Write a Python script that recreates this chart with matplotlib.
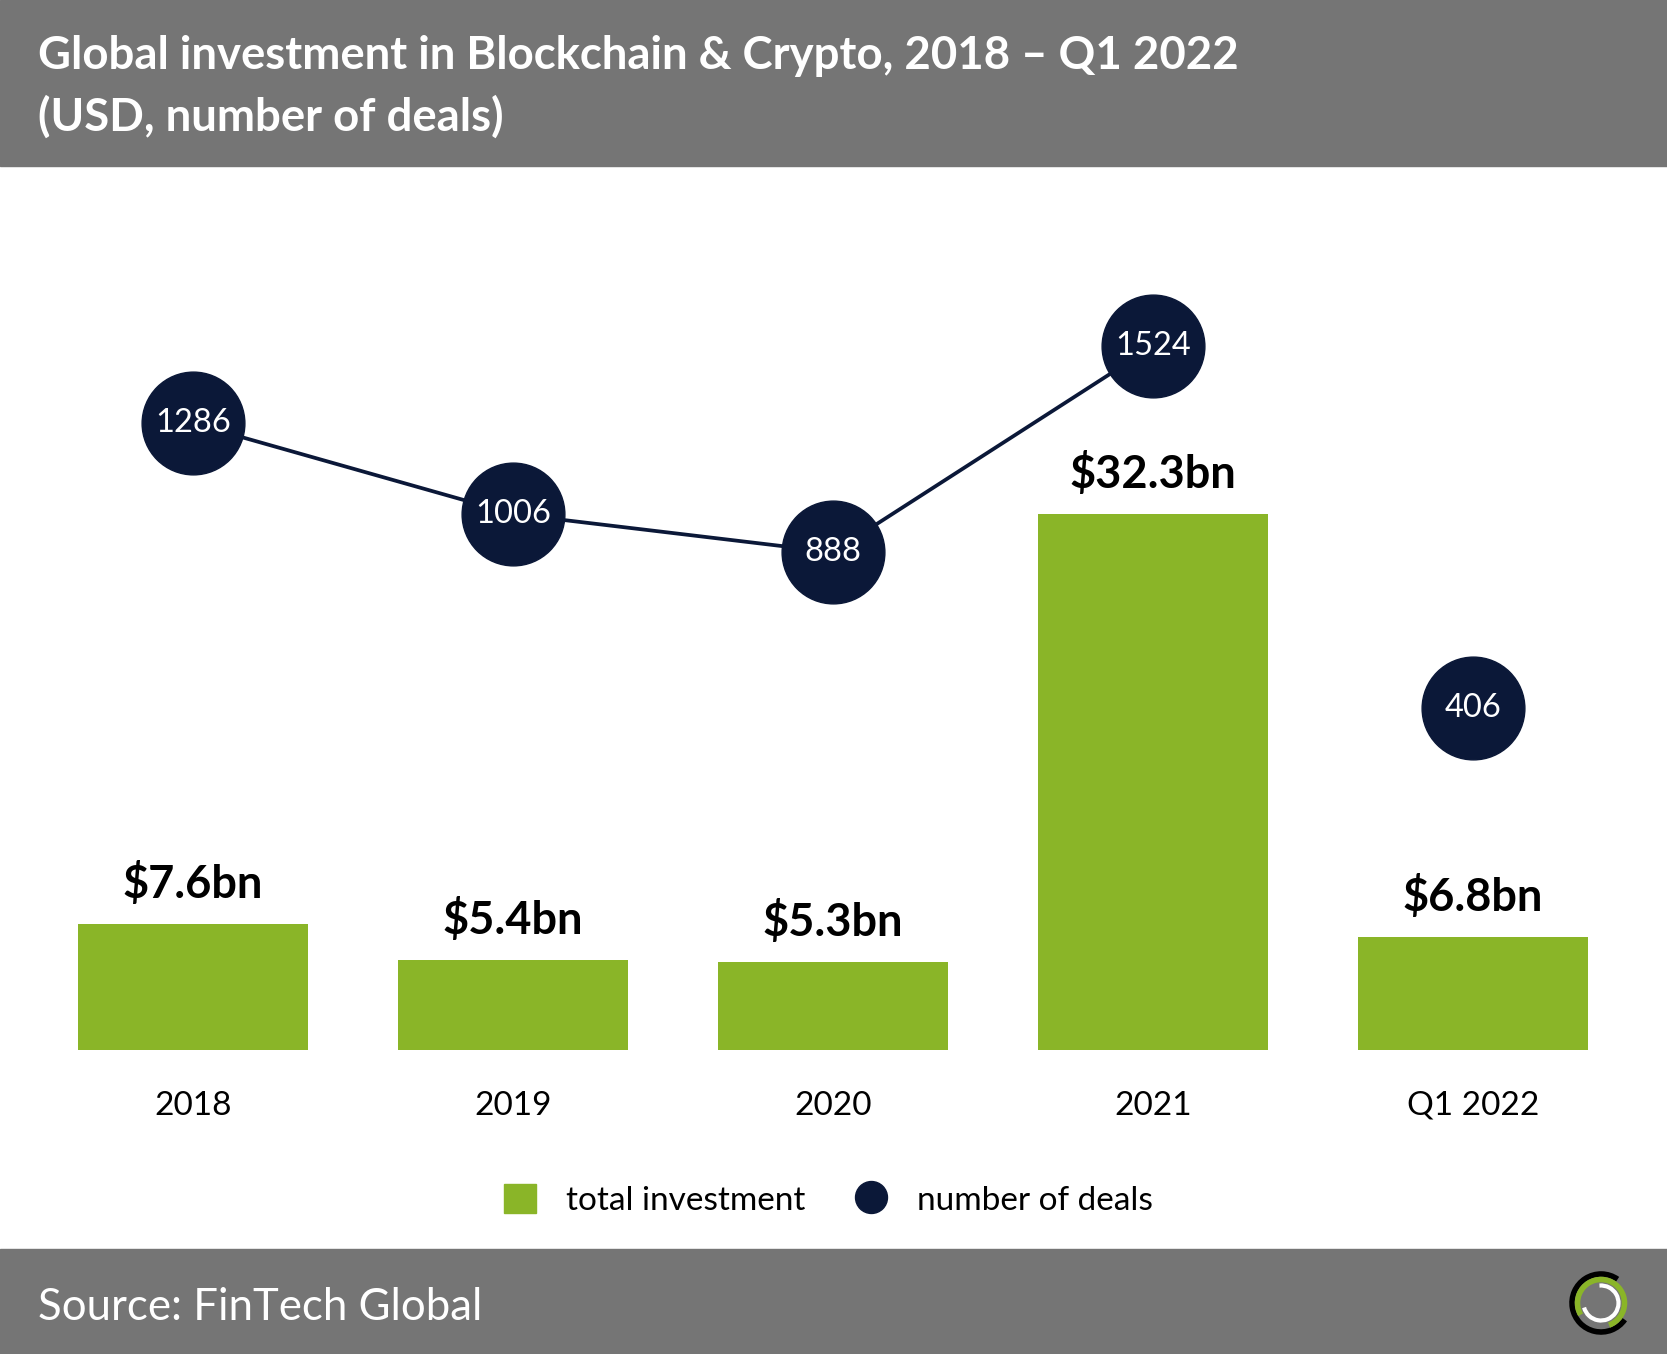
import numpy as np
import matplotlib
matplotlib.use("Agg")
import matplotlib.pyplot as plt
from matplotlib.patches import Rectangle, Arc, Patch
from matplotlib.lines import Line2D

plt.rcParams['font.family'] = ['Lato', 'DejaVu Sans']

# data
categories = ["2018", "2019", "2020", "2021", "Q1 2022"]
investment_bn = [7.6, 5.4, 5.3, 32.3, 6.8]
deals = [1286, 1006, 888, 1524, 406]

green = "#8AB528"
navy = "#0B1838"
grey = "#757575"

W, H = 1667, 1354
fig = plt.figure(figsize=(W / 100, H / 100), dpi=100)

# background layer: header, footer, logo (pixel coords)
bg = fig.add_axes([0, 0, 1, 1])
bg.set_xlim(0, W)
bg.set_ylim(H, 0)
bg.axis('off')
bg.add_patch(Rectangle((0, 0), W, 166, color=grey, zorder=0))
bg.add_patch(Rectangle((0, 1249), W, H - 1249, color=grey, zorder=0))
bg.text(38, 56, "Global investment in Blockchain & Crypto, 2018 \u2013 Q1 2022",
        color="white", fontsize=32.8, fontweight="bold", va="center", ha="left")
bg.text(38, 117, "(USD, number of deals)",
        color="white", fontsize=32.8, fontweight="bold", va="center", ha="left")
bg.text(38, 1307, "Source: FinTech Global", color="white", fontsize=31.5,
        va="center", ha="left")

# logo
cx, cy = 1601, 1303
bg.add_patch(Arc((cx, cy), 58, 58, theta1=35, theta2=305, color="black", lw=4))
bg.add_patch(Arc((cx, cy), 47, 47, theta1=150, theta2=430, color=green, lw=4))
bg.add_patch(Arc((cx, cy), 35, 35, theta1=-95, theta2=165, color="white", lw=3))

# main chart
ax = fig.add_axes([0, 1 - 1050 / H, 1, (1050 - 166) / H])
ax.patch.set_alpha(0)
x = np.arange(len(categories))
ax.bar(x, investment_bn, width=0.72, color=green, zorder=2)
ax.set_xlim(-0.603, 4.606)
ax.set_ylim(0, 53.3)
ax.axis('off')

for xi, v in zip(x, investment_bn):
    ax.annotate(f"${v}bn", (xi, v), xytext=(0, 29), textcoords="offset points",
                ha="center", va="center", fontsize=32.5, fontweight="bold", color="black")

for xi, c in zip(x, categories):
    ax.annotate(c, (xi, 0), xytext=(0, -40), textcoords="offset points",
                ha="center", va="center", fontsize=24, color="black",
                annotation_clip=False)

ax2 = ax.twinx()
ax2.set_ylim(-650, 2081)
ax2.axis('off')
ax2.plot(x[:4], deals[:4], color=navy, lw=2.7, zorder=3)
ax2.plot(x, deals, linestyle="none", marker="o", markersize=74,
         markerfacecolor=navy, markeredgecolor=navy, zorder=4)
for xi, d in zip(x, deals):
    ax2.text(xi, d, str(d), ha="center", va="center", fontsize=23.5,
             color="white", zorder=5)

# legend
handles = [Patch(facecolor=green, edgecolor=green, label="total investment"),
           Line2D([], [], linestyle="none", marker="o", markersize=23,
                  markerfacecolor=navy, markeredgecolor=navy, label="number of deals")]
fig.legend(handles=handles, loc="center", bbox_to_anchor=(0.497, 0.1135), ncol=2,
           frameon=False, fontsize=24, handlelength=0.95, handleheight=0.95,
           handletextpad=0.9, columnspacing=1.5)

fig.savefig("out.png", dpi=100)
